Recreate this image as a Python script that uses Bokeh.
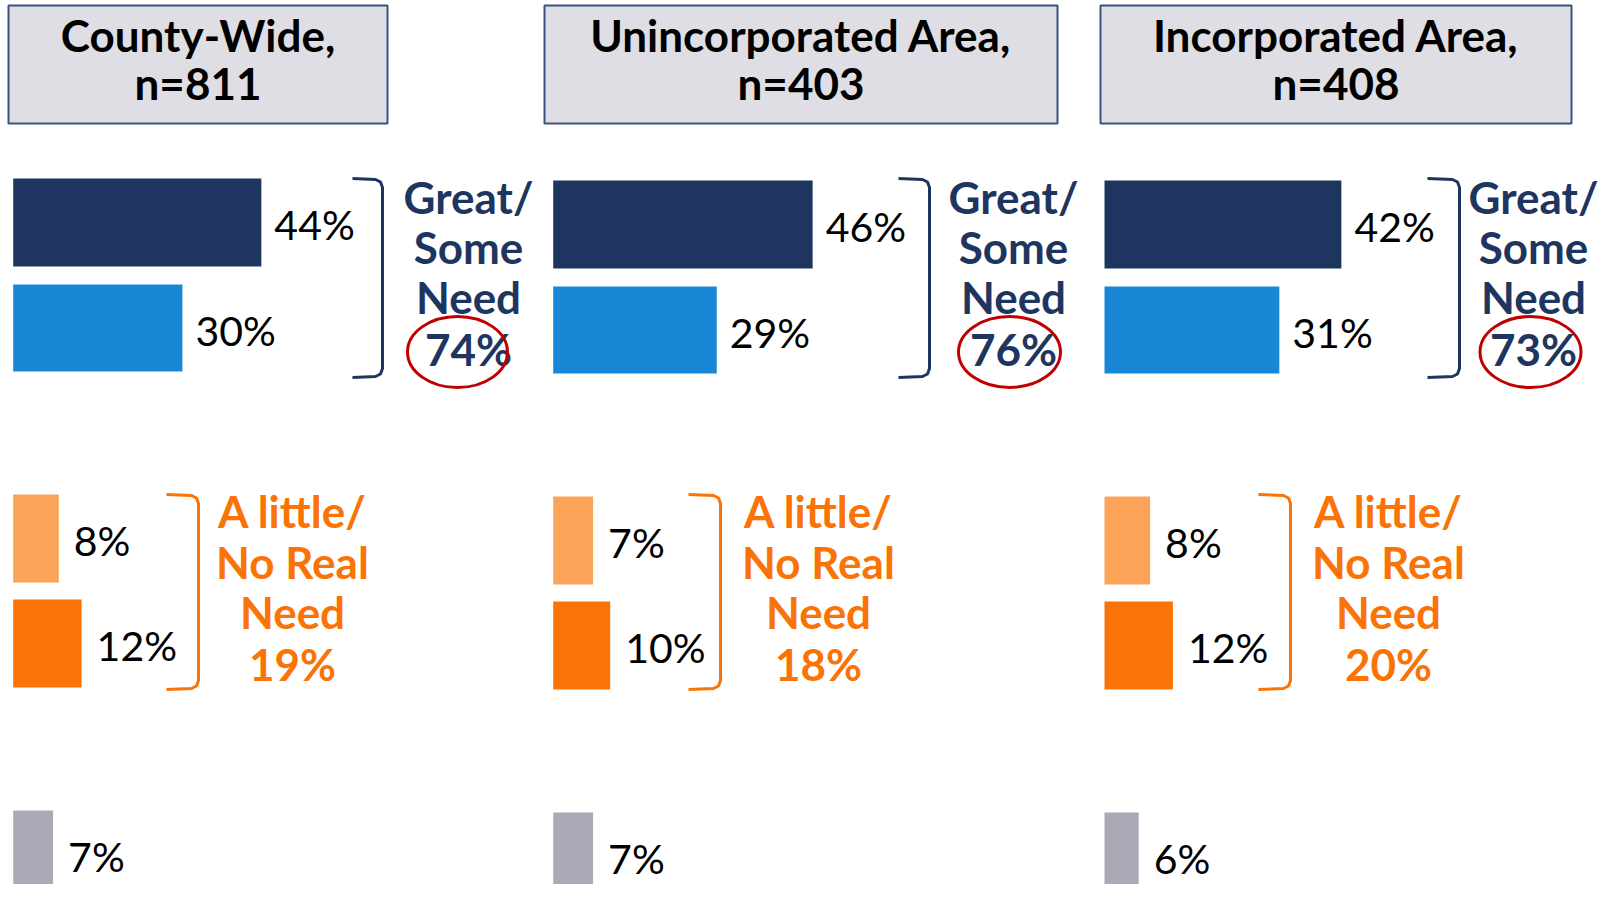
from bokeh.plotting import figure
from bokeh.models import Range1d, ColumnDataSource
from bokeh.core.properties import value
from bokeh.embed import file_html
from bokeh.resources import INLINE

# ---------------- data ----------------
panel_titles = ["County-Wide,", "Unincorporated Area,", "Incorporated Area,"]
sample_sizes = [811, 403, 408]
great_need = [44, 46, 42]
some_need = [30, 29, 31]
great_some_total = [74, 76, 73]
little_need = [8, 7, 8]
no_real_need = [12, 10, 12]
little_no_total = [19, 18, 20]
dont_know = [7, 7, 6]

# ---------------- layout (reference pixel space) ----------------
W, H = 1598, 884
X0, X1 = 0, W
Y0, Y1 = 0, H
bar_origin = [12.7, 552.7, 1104.0]
panel_dy = [-2, 0, 0]
header_lr = [(8, 387), (544, 1057), (1100, 1571)]
header_tb = (5, 123)
header_text_x = [197.5, 800.5, 1335.5]
top_bracket = [(352, 382), (898, 929), (1427, 1459)]
low_bracket = [(166, 198), (688, 720), (1258, 1290)]
top_label_x = [468, 1013, 1533]
low_label_x = [292, 818, 1388]
ellipse_x = [457, 1009, 1530]
ellipse_w = [100, 102, 101]
TOP_SCALE, LOW_SCALE = 5.64, 5.70
ROWS = {"great": (224, 88), "some": (329.5, 87), "little": (540, 88),
        "noreal": (645, 88), "dk": (855.5, 87)}

NAVY = "#1E365F"
BLUE = "#1A87D6"
LORANGE = "#FBA358"
ORANGE = "#F97306"
GRAY = "#A9AAB6"
RED = "#C00000"
FONT = value("Lato")

p = figure(width=W, height=H, x_range=Range1d(X0, X1), y_range=Range1d(Y1, Y0),
           output_backend="svg", toolbar_location=None, min_border=0,
           x_axis_type=None, y_axis_type=None, outline_line_color=None,
           background_fill_color="white", border_fill_color="white")

# per-panel value scales
for i, o in enumerate(bar_origin):
    p.extra_x_ranges[f"top{i}"] = Range1d((X0 - o) / TOP_SCALE, (X1 - o) / TOP_SCALE)
    p.extra_x_ranges[f"low{i}"] = Range1d((X0 - o) / LOW_SCALE, (X1 - o) / LOW_SCALE)

# headers
p.quad(left=[a for a, b in header_lr], right=[b for a, b in header_lr],
       top=[header_tb[0]] * 3, bottom=[header_tb[1]] * 3,
       fill_color="#DEDEE4", line_color="#3A5280", line_width=2)
p.text(x=header_text_x, y=[34] * 3, text=panel_titles, text_font=FONT,
       text_font_size="44px", text_font_style="bold", text_color="black",
       text_align="center", text_baseline="middle")
p.text(x=header_text_x, y=[82] * 3, text=[f"n={n}" for n in sample_sizes], text_font=FONT,
       text_font_size="44px", text_font_style="bold", text_color="black",
       text_align="center", text_baseline="middle")

series = [("great", great_need, NAVY, "top", 13),
          ("some", some_need, BLUE, "top", 13),
          ("little", little_need, LORANGE, "low", 15),
          ("noreal", no_real_need, ORANGE, "low", 15),
          ("dk", dont_know, GRAY, "low", 15)]

for i in range(3):
    for key, vals, color, grp, gap in series:
        yc, h = ROWS[key]
        yc = yc + panel_dy[i]
        src = ColumnDataSource(dict(y=[yc], v=[vals[i]], lab=[f"{vals[i]}%"]))
        rn = f"{grp}{i}"
        p.hbar(y="y", left=0, right="v", height=h, source=src, x_range_name=rn,
               fill_color=color, line_color=None)
        p.text(x="v", y="y", text="lab", source=src, x_range_name=rn, x_offset=gap,
               y_offset=2, text_font=FONT, text_font_size="41px", text_color="black",
               text_align="left", text_baseline="middle")

    # brackets
    for (xl, xr), (yt, yb), col in [(top_bracket[i], (178, 377), NAVY),
                                    (low_bracket[i], (494, 689), ORANGE)]:
        xs = [xl, xr - 7, xr - 2, xr, xr, xr - 2, xr - 7, xl]
        ys = [yt, yt + 1, yt + 3.5, yt + 9, yb - 9, yb - 3.5, yb - 1, yb]
        p.line(xs, ys, line_color=col, line_width=3)

    # group labels
    top_lines = ["Great/", "Some", "Need", f"{great_some_total[i]}%"]
    p.text(x=[top_label_x[i]] * 4, y=[196, 246, 296, 348], text=top_lines, text_font=FONT,
           text_font_size="44px", text_font_style="bold", text_color=NAVY,
           text_align="center", text_baseline="middle")
    low_lines = ["A little/", "No Real", "Need", f"{little_no_total[i]}%"]
    p.text(x=[low_label_x[i]] * 4, y=[510, 561, 611, 663], text=low_lines, text_font=FONT,
           text_font_size="44px", text_font_style="bold", text_color=ORANGE,
           text_align="center", text_baseline="middle")

p.ellipse(x=ellipse_x, y=[351.5] * 3, width=ellipse_w, height=[71] * 3,
          fill_color=None, line_color=RED, line_width=3)

open("out.html", "w").write(file_html(p, INLINE))
